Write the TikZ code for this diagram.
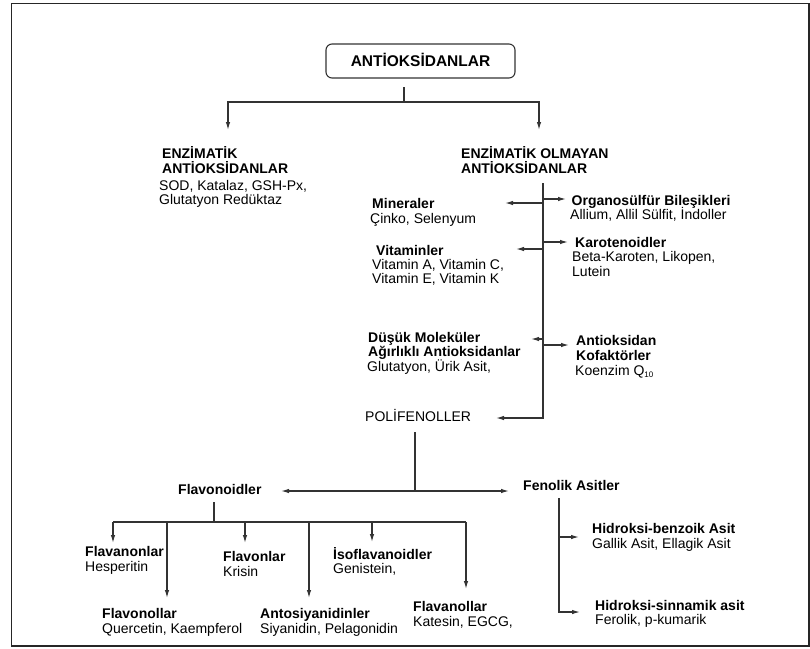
\documentclass[tikz,border=0pt]{standalone}
\usepackage{fontspec}
\setmainfont{Liberation Sans}
\usetikzlibrary{arrows.meta}
\newcommand\lns[2][14.5pt]{\vtop{\baselineskip=#1\lineskiplimit=-100pt\lineskip=0pt\halign{##\hfil\cr#2\crcr}}}
\tikzset{
  txt/.style={anchor=base west, inner sep=0pt, font=\fontsize{14}{15}\selectfont},
  ln/.style={line width=1.2pt, draw=black!80},
  arr/.style={ln, -{Latex[length=8pt,width=4.5pt]}},
  rootbox/.style={draw=black!80, line width=1.1pt, rounded corners=6pt, minimum width=189pt, minimum height=34pt, inner sep=0pt, text height=11pt, text depth=0pt, font=\fontsize{15.5}{16}\selectfont\bfseries}
}
\begin{document}
\begin{tikzpicture}[x=1pt,y=-1pt]
\useasboundingbox (0,0) rectangle (810,648);
\draw[line width=1.6pt, black!85] (11.5,3.5) rectangle (808.8,646);

% root
\node[rootbox] (root) at (420.5,61) {ANTİOKSİDANLAR};

% level 1
\node[txt] (enzh) at (162,158) {\lns[15.5pt]{\bfseries ENZİMATİK\cr\bfseries ANTİOKSİDANLAR}};
\node[txt] (enzd) at (159,190) {\lns[14.5pt]{SOD, Katalaz, GSH-Px,\cr Glutatyon Redüktaz}};
\node[txt] (nenz) at (461,158) {\lns[15.5pt]{\bfseries ENZİMATİK OLMAYAN\cr\bfseries ANTİOKSİDANLAR}};

% non-enzymatic groups
\node[txt] (min) at (370,208.5) {\lns{\hspace{2pt}\bfseries Mineraler\cr Çinko, Selenyum}};
\node[txt] (org) at (570,205) {\lns{\hspace{1.5pt}\bfseries Organosülfür Bileşikleri\cr Allium, Allil Sülfit, İndoller}};
\node[txt] (vit) at (372,255) {\lns[14pt]{\hspace{4pt}\bfseries Vitaminler\cr Vitamin A, Vitamin C,\cr Vitamin E, Vitamin K}};
\node[txt] (kar) at (572,247) {\lns{\hspace{3pt}\bfseries Karotenoidler\cr Beta-Karoten, Likopen,\cr Lutein}};
\node[txt] (dus) at (367,342) {\lns{\hspace{1pt}\bfseries Düşük Moleküler\cr\hspace{1pt}\bfseries Ağırlıklı Antioksidanlar\cr Glutatyon, Ürik Asit,}};
\node[txt] (kof) at (575,345) {\lns[15pt]{\hspace{1pt}\bfseries Antioksidan\cr\hspace{1pt}\bfseries Kofaktörler\cr Koenzim Q\raisebox{-2.5pt}{\fontsize{8}{8}\selectfont 10}}};
\node[txt] (pol) at (365,421) {POLİFENOLLER};

% polyphenols
\node[txt, font=\fontsize{14}{15}\selectfont\bfseries] (flv) at (178,494) {Flavonoidler};
\node[txt, font=\fontsize{14}{15}\selectfont\bfseries] (fen) at (523,490) {Fenolik Asitler};

\node[txt] (fnon) at (85,556.5) {\lns{\bfseries Flavanonlar\cr Hesperitin}};
\node[txt] (fvon) at (223,561.5) {\lns{\bfseries Flavonlar\cr Krisin}};
\node[txt] (iso) at (333,559) {\lns{\bfseries İsoflavanoidler\cr Genistein,}};
\node[txt] (fnol) at (102,618) {\lns[15pt]{\bfseries Flavonollar\cr Quercetin, Kaempferol}};
\node[txt] (ant) at (260,618) {\lns[15pt]{\bfseries Antosiyanidinler\cr Siyanidin, Pelagonidin}};
\node[txt] (fnll) at (413,611.5) {\lns[14.5pt]{\bfseries Flavanollar\cr Katesin, EGCG,}};
\node[txt] (hbz) at (592,533) {\lns[15pt]{\bfseries Hidroksi-benzoik Asit\cr Gallik Asit, Ellagik Asit}};
\node[txt] (hsn) at (595,610) {\lns[14.5pt]{\bfseries Hidroksi-sinnamik asit\cr Ferolik, p-kumarik}};

% connector coordinates
\coordinate (r0) at (404,87);
\coordinate (r1) at (404,102);
\coordinate (rl) at (228,102);
\coordinate (rr) at (539,102);
\coordinate (enzTip) at (228,130);
\coordinate (nenzTip) at (539,130);

\coordinate (t0) at (543,183);
\coordinate (tMin) at (543,203);   \coordinate (minTip) at (505,203);
\coordinate (tOrg) at (543,199);   \coordinate (orgTip) at (566,199);
\coordinate (tVit) at (543,249);   \coordinate (vitTip) at (516,249);
\coordinate (tKar) at (543,242);   \coordinate (karTip) at (568,242);
\coordinate (tDus) at (543,339);   \coordinate (dusTip) at (531,339);
\coordinate (tKof) at (543,345);   \coordinate (kofTip) at (569,345);
\coordinate (t9) at (543,418);     \coordinate (polTip) at (496,418);

\coordinate (p0) at (415,432);
\coordinate (p1) at (415,491);
\coordinate (flvTip) at (281,491);
\coordinate (fenTip) at (509,491);

\coordinate (v0) at (214,502);
\coordinate (v1) at (214,522);
\coordinate (bA) at (113,522);  \coordinate (bAt) at (113,543);
\coordinate (bB) at (167,522);  \coordinate (bBt) at (167,598);
\coordinate (bC) at (245,522);  \coordinate (bCt) at (245,543);
\coordinate (bD) at (309,522);  \coordinate (bDt) at (309,598);
\coordinate (bE) at (372,522);  \coordinate (bEt) at (372,542);
\coordinate (bF) at (466,522);  \coordinate (bFt) at (466,589);

\coordinate (f0) at (559,498);
\coordinate (f1) at (559,537);  \coordinate (f1t) at (579,537);
\coordinate (f2) at (559,612);  \coordinate (f2t) at (580,612);

% connectors
\draw[ln] (r0) -- (r1);
\draw[arr] (r1) -- (rl) -- (enzTip);
\draw[arr] (r1) -- (rr) -- (nenzTip);

\draw[arr] (t0) -- (t9) -- (polTip);
\draw[arr] (tMin) -- (minTip);
\draw[arr] (tOrg) -- (orgTip);
\draw[arr] (tVit) -- (vitTip);
\draw[arr] (tKar) -- (karTip);
\draw[arr] (tDus) -- (dusTip);
\draw[arr] (tKof) -- (kofTip);

\draw[ln] (p0) -- (p1);
\draw[arr] (p1) -- (flvTip);
\draw[arr] (p1) -- (fenTip);

\draw[ln] (v0) -- (v1);
\draw[ln] (bA) -- (bF);
\draw[arr] (bA) -- (bAt);
\draw[arr] (bB) -- (bBt);
\draw[arr] (bC) -- (bCt);
\draw[arr] (bD) -- (bDt);
\draw[arr] (bE) -- (bEt);
\draw[arr] (bF) -- (bFt);

\draw[ln] (f0) -- (f1);
\draw[arr] (f1) -- (f1t);
\draw[arr] (f1) -- (f2) -- (f2t);
\end{tikzpicture}
\end{document}
